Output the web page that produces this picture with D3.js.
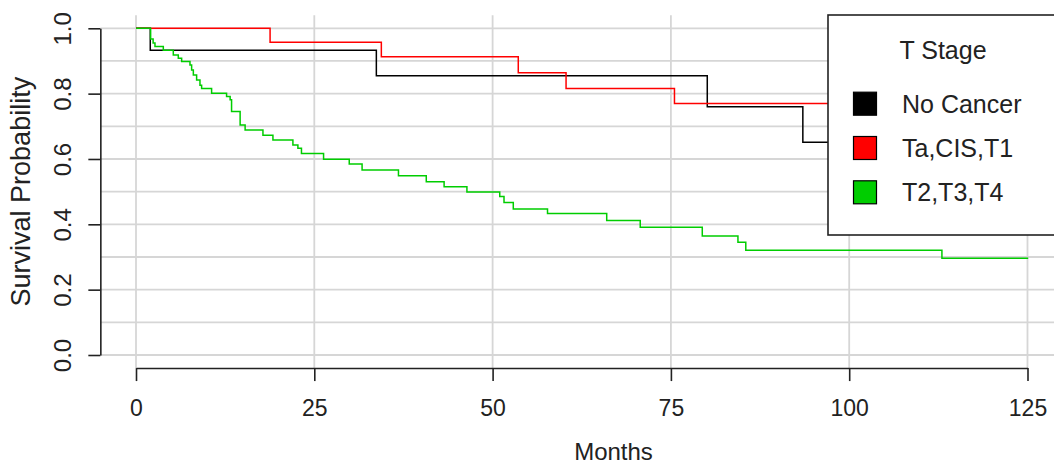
<!DOCTYPE html>
<html>
<head>
<meta charset="utf-8">
<script src="https://cdn.jsdelivr.net/npm/d3@7"></script>
<style>
  html, body { margin: 0; padding: 0; background: #fff; }
  svg { display: block; }
  text { font-family: "Liberation Sans", Arial, sans-serif; fill: #222; }
</style>
</head>
<body>
<svg id="chart" width="1054" height="464"></svg>
<script>
// ---- Data (Kaplan-Meier step points: time in months, survival probability) ----
const groups = ["No Cancer", "Ta,CIS,T1", "T2,T3,T4"];
const groupColors = ["#000000", "#ff0000", "#00cd00"];

const noCancerTime = [0, 2.0, 33.7, 80.1, 93.5, 110];
const noCancerSurv = [1.0, 0.933, 0.855, 0.760, 0.651, 0.651];

const taCisT1Time = [0, 18.8, 34.4, 53.6, 60.3, 75.5, 110];
const taCisT1Surv = [1.0, 0.957, 0.913, 0.864, 0.816, 0.770, 0.770];

const t2t3t4Time = [0, 2.05, 2.4, 2.66, 3.83, 5.23, 5.93, 6.4, 7.57, 7.8, 8.04, 8.5, 8.97, 9.2,
  10.6, 12.7, 13.2, 13.4, 14.6, 15.3, 17.8, 19.2, 22.0, 22.7, 23.2, 26.3, 29.9, 31.7,
  36.8, 40.7, 43.2, 46.4, 51.0, 51.6, 52.9, 57.7, 66.0, 70.7, 79.4, 84.4, 85.5, 113.0, 125.1];
const t2t3t4Surv = [1.0, 0.967, 0.955, 0.944, 0.933, 0.918, 0.908, 0.898, 0.888, 0.872, 0.857, 0.842, 0.826, 0.816,
  0.801, 0.791, 0.781, 0.745, 0.704, 0.689, 0.673, 0.658, 0.643, 0.633, 0.617, 0.599, 0.585, 0.566,
  0.549, 0.530, 0.515, 0.499, 0.485, 0.467, 0.447, 0.433, 0.412, 0.391, 0.364, 0.345, 0.321, 0.296, 0.296];

const xTicks = [0, 25, 50, 75, 100, 125];
const yTicks = [0, 0.2, 0.4, 0.6, 0.8, 1.0];
const yGrid = [0, 0.1, 0.2, 0.3, 0.4, 0.5, 0.6, 0.7, 0.8, 0.9, 1.0];
const xLabel = "Months";
const yLabel = "Survival Probability";
const legendTitle = "T Stage";

// ---- Scales ----
const x = d3.scaleLinear().domain([0, 125]).range([136, 1027.5]);
const y = d3.scaleLinear().domain([0, 1]).range([355, 28.3]);
const xMin = x(-5), xMax = x(130), yTop = y(1.04), yBot = y(-0.04);

const svg = d3.select("#chart");

// ---- Grid ----
const grid = svg.append("g").attr("stroke", "#d6d6d6").attr("stroke-width", 1.8);
grid.selectAll("line.v").data(xTicks).join("line")
  .attr("x1", d => x(d)).attr("x2", d => x(d))
  .attr("y1", yTop).attr("y2", yBot);
grid.selectAll("line.h").data(yGrid).join("line")
  .attr("x1", xMin).attr("x2", xMax)
  .attr("y1", d => y(d)).attr("y2", d => y(d));

// ---- Curves ----
const series = [
  { t: noCancerTime, s: noCancerSurv },
  { t: taCisT1Time, s: taCisT1Surv },
  { t: t2t3t4Time, s: t2t3t4Surv }
];
const line = d3.line().x(d => x(d[0])).y(d => y(d[1])).curve(d3.curveStepAfter);
series.forEach((ser, i) => {
  svg.append("path")
    .datum(ser.t.map((tt, k) => [tt, ser.s[k]]))
    .attr("fill", "none")
    .attr("stroke", groupColors[i])
    .attr("stroke-width", 1.5)
    .attr("d", line);
});

// ---- Axes ----
const xAxis = svg.append("g").attr("transform", `translate(0,${yBot})`)
  .call(d3.axisBottom(x).tickValues(xTicks).tickSize(13).tickSizeOuter(0).tickPadding(10));
xAxis.select(".domain").attr("stroke", "#222").attr("stroke-width", 1.6);
xAxis.selectAll(".tick line").attr("stroke", "#222").attr("stroke-width", 1.6);
xAxis.selectAll(".tick text").attr("font-size", 23).attr("y", 0).attr("dy", 0)
  .attr("transform", "translate(0,48)").attr("fill", "#222");

const yAxis = svg.append("g").attr("transform", `translate(${xMin},0)`)
  .call(d3.axisLeft(y).tickValues(yTicks).tickFormat(d3.format(".1f")).tickSize(12).tickSizeOuter(0));
yAxis.select(".domain").attr("stroke", "#222").attr("stroke-width", 1.6);
yAxis.selectAll(".tick line").attr("stroke", "#222").attr("stroke-width", 1.6);
yAxis.selectAll(".tick text").attr("font-size", 24).attr("x", 0).attr("y", 0).attr("dy", 0)
  .attr("text-anchor", "middle").attr("transform", "translate(-29,0) rotate(-90)").attr("fill", "#222");

// ---- Axis labels ----
svg.append("text").attr("x", 613.5).attr("y", 460).attr("text-anchor", "middle")
  .attr("font-size", 24).text(xLabel);
svg.append("text").attr("transform", `translate(30,${(y(0) + y(1)) / 2}) rotate(-90)`)
  .attr("text-anchor", "middle").attr("font-size", 27).text(yLabel);

// ---- Legend ----
const lg = svg.append("g");
lg.append("rect").attr("x", 828).attr("y", 15).attr("width", 240).attr("height", 220)
  .attr("fill", "#fff").attr("stroke", "#222").attr("stroke-width", 1.6);
lg.append("text").attr("x", 943).attr("y", 59).attr("text-anchor", "middle")
  .attr("font-size", 25).text(legendTitle);
const rowY = d3.scalePoint().domain(groups).range([103.7, 192.3]);
groups.forEach((g, i) => {
  lg.append("rect").attr("x", 853.5).attr("y", rowY(g) - 11.5).attr("width", 23).attr("height", 23)
    .attr("fill", groupColors[i]).attr("stroke", "#000").attr("stroke-width", 1.2);
  lg.append("text").attr("x", 902).attr("y", rowY(g) + 9).attr("font-size", 25).text(g);
});
</script>
</body>
</html>
